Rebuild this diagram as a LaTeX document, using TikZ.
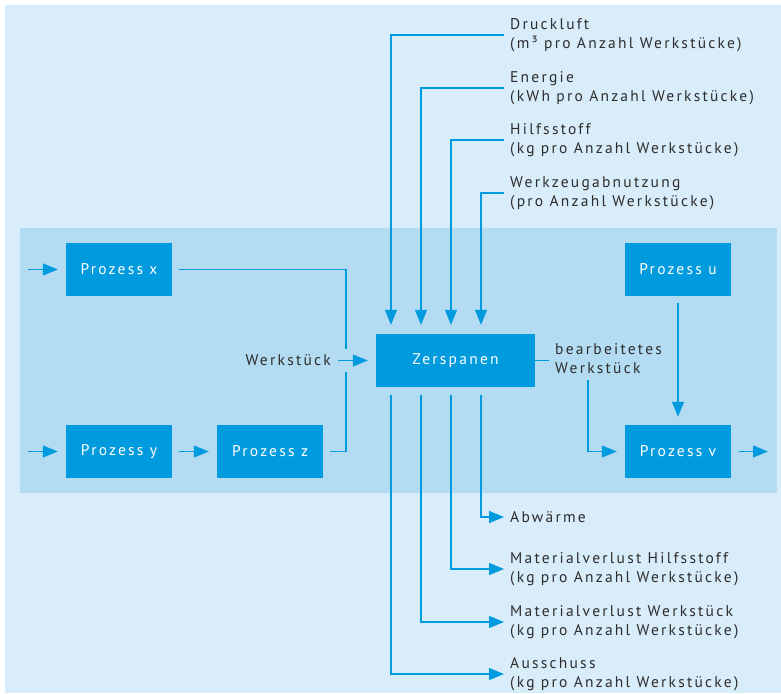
\documentclass[tikz,border=0pt]{standalone}
\usepackage{fontspec}
\setmainfont{PT Sans}[LetterSpace=14.5]
\usepackage{tikz}
\usetikzlibrary{positioning}
\usetikzlibrary{arrows.meta}
\usetikzlibrary{calc}
\usepackage{xcolor}

\definecolor{bgblue}{RGB}{217,236,249}
\definecolor{bandblue}{RGB}{179,220,243}
\definecolor{boxblue}{RGB}{0,155,223}
\definecolor{txtgray}{RGB}{45,45,45}

\begin{document}
\begin{tikzpicture}[
  x=1pt, y=-1pt,
  font=\fontsize{15.5}{19}\selectfont,
  box/.style={fill=boxblue, text=white, minimum width=106pt, minimum height=53pt, inner sep=0pt},
  line/.style={draw=boxblue, line width=1.3pt},
  arrow/.style={line, -{Triangle[length=15pt, width=12pt]}},
  lbl/.style={text=txtgray, align=left, anchor=west, inner sep=6pt}
]

% Background and band
\useasboundingbox (0,0) rectangle (781,693);
\fill[bgblue] (5,5) rectangle (781,693);
\fill[bandblue] (20,228) rectangle (777,493);

% Process boxes
\node[box] (px) at (119,269.5) {Prozess x};
\node[box] (py) at (119,451.5) {Prozess y};
\node[box] (pz) at (270,451.5) {Prozess z};
\node[box, minimum width=159pt] (zer) at (455.5,360.5) {Zerspanen};
\node[box] (pu) at (678,269.5) {Prozess u};
\node[box] (pv) at (678,451.5) {Prozess v};

% Inputs (top)
\node[lbl] (druck) at (504,35) {Druckluft\\(m³ pro Anzahl Werkstücke)};
\node[lbl] (energie) at (504,88) {Energie\\(kWh pro Anzahl Werkstücke)};
\node[lbl] (hilf) at (504,140) {Hilfsstoff\\(kg pro Anzahl Werkstücke)};
\node[lbl] (wzg) at (504,193) {Werkzeugabnutzung\\(pro Anzahl Werkstücke)};

% Outputs (bottom)
\node[lbl] (abw) at (504,517) {Abwärme};
\node[lbl] (mvh) at (504,569) {Materialverlust Hilfsstoff\\(kg pro Anzahl Werkstücke)};
\node[lbl] (mvw) at (504,622) {Materialverlust Werkstück\\(kg pro Anzahl Werkstücke)};
\node[lbl] (aus) at (504,674) {Ausschuss\\(kg pro Anzahl Werkstücke)};

% Side labels
\node[lbl, anchor=east, inner sep=0pt] (werk) at (331,360.5) {Werkstück};
\node[lbl] (bearb) at (549,359) {bearbeitetes\\Werkstück};

% Free ends
\coordinate (inx) at (28,269.5);
\coordinate (iny) at (28,451.5);
\coordinate (jx) at (346,349);
\coordinate (jz) at (346,372);
\coordinate (bw) at (588,380);
\coordinate (outv) at (768,451.5);

% Flow to Zerspanen
\draw[arrow, shorten >=8pt] (inx) -- (px);
\draw[arrow, shorten >=8pt] (iny) -- (py);
\draw[arrow, shorten <=7pt, shorten >=8pt] (py) -- (pz);
\draw[line] ([xshift=7pt]px.east) -| (jx);
\draw[line] ([xshift=7pt]pz.east) -| (jz);
\draw[arrow, shorten <=7pt, shorten >=8pt] (werk.east) -- (zer.west);

% Flow from Zerspanen
\draw[line] (zer.east) -- (zer.east -| bearb.west);
\draw[arrow, shorten >=8pt] (bw) |- (pv.west);
\draw[arrow, shorten <=7pt, shorten >=8pt] (pu) -- (pv);
\draw[arrow, shorten <=8pt] (pv.east) -- (outv);

% Resources in and losses out
\foreach \n/\dx in {druck/-64.5, energie/-34.5, hilf/-4.5, wzg/25.5}
  \draw[arrow] (\n.west) -| ([xshift=\dx pt, yshift=9pt]zer.north);
\foreach \n/\dx in {abw/25.5, mvh/-4.5, mvw/-34.5, aus/-64.5}
  \draw[arrow] ([xshift=\dx pt, yshift=-8pt]zer.south) |- (\n.west);

\end{tikzpicture}
\end{document}
